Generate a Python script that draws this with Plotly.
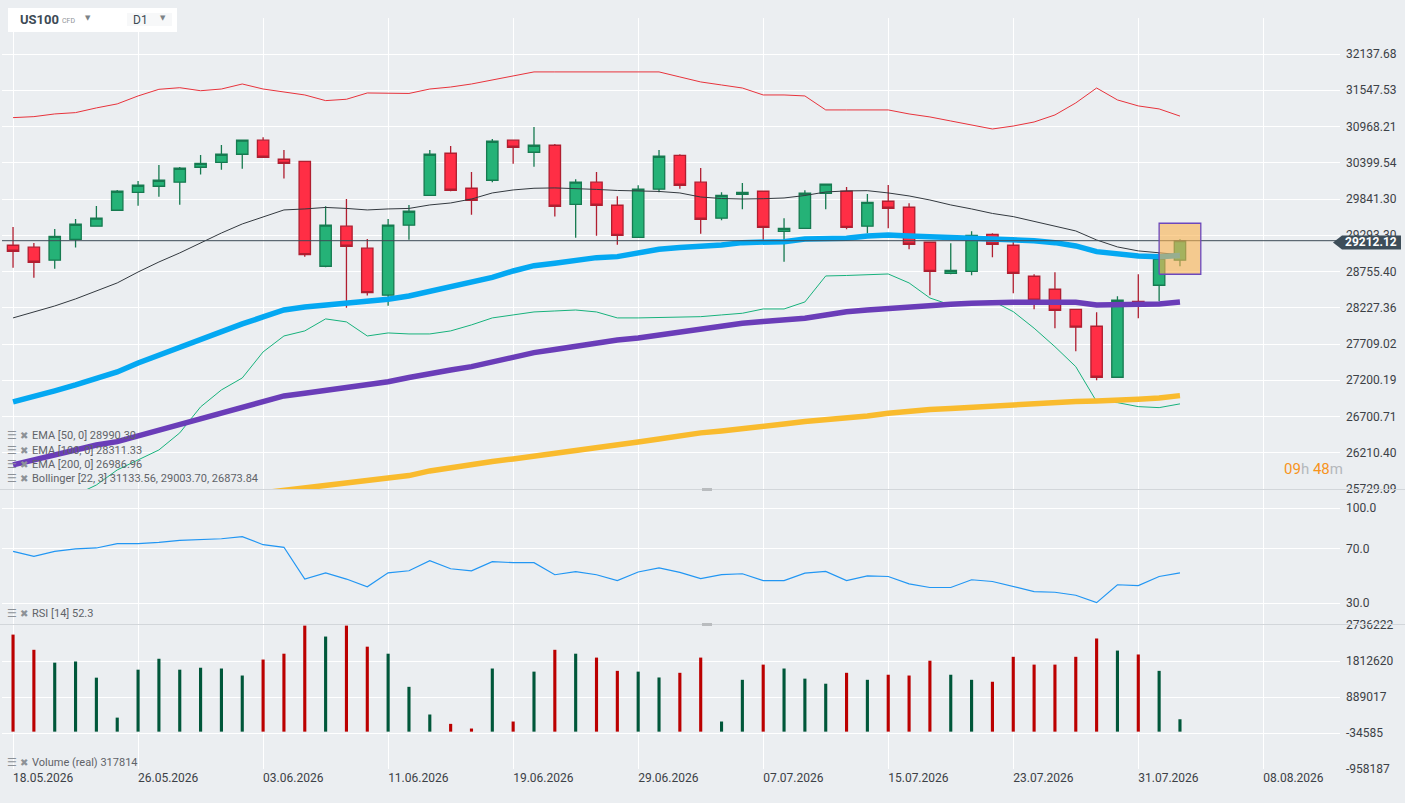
import plotly.graph_objects as go

# ---- values (daily US100 bars, index 0 = 18.05.2026) ----
tick_dates = ["18.05.2026", "26.05.2026", "03.06.2026", "11.06.2026", "19.06.2026",
              "29.06.2026", "07.07.2026", "15.07.2026", "23.07.2026", "31.07.2026", "08.08.2026"]

opens = [29144, 29115, 28922, 29233, 29429, 29670, 29944, 30037, 30099, 30330,
         30407, 30532, 30752, 30454, 30422, 28833, 29429, 29100, 28409, 29444,
         29898, 30548, 30006, 30129, 30752, 30563, 30673, 29761, 30099, 29746,
         29263, 29991, 30516, 30099, 29550, 29914, 29960, 29353, 29398, 29929,
         29960, 29429, 29807, 29716, 29189, 28729, 28758, 29308, 29144, 28686,
         28496, 28205, 27962, 27242, 28321, 28554, 28922]
highs = [29418, 29178, 29388, 29539, 29736, 29980, 30118, 30365, 30334, 30521,
         30678, 30760, 30799, 30600, 30430, 29731, 29841, 29238, 29539, 29751,
         30600, 30662, 30257, 30772, 30758, 30960, 30694, 30145, 30257, 29883,
         30052, 30600, 30532, 30319, 29944, 30088, 29965, 29550, 29975, 30075,
         30026, 29918, 30057, 29776, 29195, 29174, 29353, 29323, 29263, 28715,
         28744, 28210, 28162, 28394, 28715, 29040, 29233]
lows = [28812, 28665, 28797, 29109, 29420, 29665, 29740, 29877, 29755, 30216,
        30293, 30308, 30480, 30154, 28975, 28818, 28228, 28403, 28257, 29227,
        29890, 29960, 29604, 30099, 30385, 30339, 29574, 29257, 29287, 29153,
        29255, 29944, 30000, 29317, 29519, 29686, 29212, 28901, 29390, 29686,
        29383, 29323, 29398, 29085, 28409, 28715, 28700, 28966, 28438, 28205,
        27934, 27607, 27200, 27235, 28077, 28321, 28833]
closes = [29055, 28892, 29278, 29459, 29550, 29960, 30052, 30129, 30314, 30391,
          30532, 30752, 30485, 30391, 29005, 29444, 29129, 28447, 29444, 29655,
          30532, 29975, 29822, 30736, 30642, 30673, 29731, 30099, 29746, 29293,
          29991, 30501, 30052, 29534, 29898, 29944, 29413, 29398, 29929, 30068,
          29413, 29791, 29701, 29159, 28758, 28773, 29293, 29159, 28729, 28336,
          28191, 27948, 27242, 28336, 28292, 28951, 29212.12]

ema50 = [26900, 26969, 27052, 27135, 27232, 27316, 27442, 27555, 27667, 27766,
         27881, 27995, 28095, 28195, 28238, 28267, 28304, 28315, 28350, 28398,
         28461, 28522, 28584, 28668, 28763, 28841, 28877, 28926, 28960, 28975,
         29034, 29085, 29109, 29123, 29149, 29183, 29198, 29198, 29238, 29238,
         29248, 29282, 29297, 29282, 29272, 29263, 29257, 29248, 29233, 29212,
         29183, 29134, 29049, 29011, 28985, 28975, 28990.30]
ema100 = [26048, 26114, 26181, 26261, 26315, 26360, 26437, 26518, 26593, 26667,
          26749, 26822, 26901, 26983, 27020, 27056, 27093, 27135, 27180, 27239,
          27298, 27344, 27390, 27461, 27527, 27587, 27632, 27681, 27723, 27766,
          27795, 27838, 27881, 27909, 27959, 28005, 28031, 28052, 28077, 28124,
          28171, 28195, 28220, 28243, 28260, 28278, 28292, 28307, 28307, 28307,
          28307, 28307, 28267, 28267, 28267, 28282, 28311.33]
ema200 = [25294, 25326, 25359, 25391, 25424, 25456, 25489, 25521, 25554, 25586,
          25619, 25651, 25684, 25716, 25742, 25773, 25809, 25839, 25875, 25906,
          25968, 26015, 26054, 26094, 26127, 26167, 26207, 26254, 26288, 26322,
          26356, 26396, 26441, 26478, 26505, 26532, 26563, 26599, 26633, 26653,
          26676, 26708, 26745, 26777, 26797, 26811, 26827, 26859, 26873, 26883,
          26894, 26905, 26912, 26918, 26938, 26956, 26986.96]

boll_upper = [31109, 31125, 31168, 31189, 31264, 31328, 31456, 31563, 31589, 31540,
              31568, 31649, 31568, 31524, 31472, 31381, 31403, 31504, 31496, 31496,
              31568, 31600, 31649, 31714, 31780, 31845, 31845, 31845, 31845, 31845,
              31837, 31845, 31763, 31682, 31633, 31584, 31472, 31472, 31456, 31232,
              31232, 31232, 31232, 31168, 31120, 31056, 30992, 30929, 30976, 31040,
              31152, 31344, 31584, 31392, 31296, 31248, 31133.56]
boll_mid = [28081, 28167, 28253, 28355, 28471, 28588, 28748, 28896, 29030, 29178,
            29327, 29463, 29569, 29675, 29690, 29713, 29698, 29675, 29690, 29698,
            29751, 29781, 29841, 29934, 29980, 30006, 30011, 30003, 29988, 29972,
            29965, 29957, 29934, 29872, 29849, 29841, 29846, 29857, 29895, 29949,
            29965, 29969, 29934, 29888, 29826, 29751, 29690, 29622, 29574, 29501,
            29426, 29358, 29223, 29119, 29060, 29030, 29003.70]
boll_lower = [25365, 25456, 25547, 25651, 25782, 25981, 26114, 26248, 26478, 26832,
              27066, 27232, 27597, 27823, 27895, 28067, 28024, 27823, 27866, 27852,
              27852, 27895, 27981, 28081, 28124, 28167, 28181, 28195, 28167, 28081,
              28081, 28088, 28095, 28099, 28124, 28148, 28210, 28210, 28311, 28690,
              28697, 28704, 28719, 28588, 28369, 28267, 28292, 28326, 28171, 27934,
              27671, 27390, 26905, 26891, 26836, 26822, 26873.84]

rsi = [68.2, 64.5, 68.2, 70.0, 70.7, 73.9, 73.9, 74.8, 76.3, 76.8,
       77.5, 79.0, 73.1, 71.2, 47.8, 52.4, 47.8, 42.1, 52.4, 53.9,
       61.3, 55.4, 53.9, 60.6, 59.9, 59.9, 51.0, 53.2, 51.0, 46.7,
       53.0, 56.1, 52.7, 48.2, 51.0, 51.7, 46.7, 46.7, 52.2, 53.4,
       46.7, 50.2, 49.7, 44.3, 41.6, 41.6, 47.3, 46.0, 42.3, 38.6,
       38.1, 35.9, 30.4, 43.6, 43.0, 49.7, 52.3]

volume = [2490000, 2100000, 1770000, 1800000, 1385000, 360000, 1590000, 1870000, 1590000, 1640000,
          1620000, 1440000, 1850000, 2000000, 2720000, 2440000, 2720000, 2180000, 2000000, 1150000,
          440000, 200000, 80000, 1620000, 260000, 1540000, 2100000, 2000000, 1900000, 1560000,
          1540000, 1390000, 1510000, 1900000, 260000, 1330000, 1720000, 1620000, 1360000, 1230000,
          1510000, 1330000, 1460000, 1440000, 1820000, 1460000, 1330000, 1280000, 1920000, 1720000,
          1720000, 1920000, 2390000, 2080000, 1980000, 1560000, 317814]

price_ticks = [32137.68, 31547.53, 30968.21, 30399.54, 29841.30, 29293.30, 28755.40,
               28227.36, 27709.02, 27200.19, 26700.71, 26210.40, 25729.09]
rsi_ticks = [100.0, 70.0, 30.0]
volume_ticks = [2736222, 1812620, 889017, -34585, -958187]

focus_top, focus_bottom = 29474, 28715   # highlighted box round the live candle

# ---- page geometry (pixels) ----
W, H = 1405, 803
L, R, T, B = 2, 65, 18, 34
PW, PH = W - L - R, H - T - B


def px(x):
    return (x - L) / PW


def py(y):
    return (H - B - y) / PH


idx = list(range(len(closes)))
last = idx[-1]
last_close = closes[-1]

BG = "#ebeef1"
FONT = "Roboto"
vol_colors = ["#00573a" if c >= o else "#bb0000" for o, c in zip(opens, closes)]

fig = go.Figure()

fig.add_trace(go.Candlestick(
    x=idx, open=opens, high=highs, low=lows, close=closes,
    increasing=dict(line=dict(color="#167a50", width=1.3), fillcolor="#25b277"),
    decreasing=dict(line=dict(color="#b01e30", width=1.3), fillcolor="#ff2e45"),
    whiskerwidth=0, hoverinfo="skip", xaxis="x", yaxis="y"))

for vals, col, w in [(boll_upper, "#e8333c", 1), (boll_mid, "#33393f", 1),
                     (boll_lower, "#17b27c", 1)]:
    fig.add_trace(go.Scatter(x=idx, y=vals, mode="lines", line=dict(color=col, width=w),
                             hoverinfo="skip", xaxis="x", yaxis="y"))

for vals, col in [(ema200, "#f9bb2e"), (ema100, "#6a3db8"), (ema50, "#04a8f2")]:
    fig.add_trace(go.Scatter(x=idx, y=vals, mode="lines", line=dict(color=col, width=5.5),
                             hoverinfo="skip", xaxis="x", yaxis="y"))

# current price line
fig.add_trace(go.Scatter(x=[-5, last + 20], y=[last_close, last_close], mode="lines",
                         line=dict(color="#3d4a55", width=1), hoverinfo="skip",
                         xaxis="x", yaxis="y"))

# highlight box over the live candle
fig.add_trace(go.Scatter(
    x=[last - 1, last + 1, last + 1, last - 1, last - 1],
    y=[focus_bottom, focus_bottom, focus_top, focus_top, focus_bottom],
    mode="lines", fill="toself", fillcolor="rgba(250,178,78,0.6)",
    line=dict(color="#6c47bd", width=1.3), hoverinfo="skip", xaxis="x", yaxis="y"))

fig.add_trace(go.Scatter(x=idx, y=rsi, mode="lines", line=dict(color="#2196f3", width=1.2),
                         hoverinfo="skip", xaxis="x2", yaxis="y2"))

fig.add_trace(go.Bar(x=idx, y=volume, marker=dict(color=vol_colors, line=dict(width=0)),
                     width=0.15, hoverinfo="skip", xaxis="x3", yaxis="y3"))

tickvals_x = list(range(0, 6 * len(tick_dates), 6))
xrange = [-0.53, 63.68]
xcommon = dict(showgrid=True, gridcolor="white", gridwidth=1, zeroline=False,
               tickvals=tickvals_x, showline=False, ticks="")
ycommon = dict(side="right", showgrid=True, gridcolor="white", gridwidth=1, zeroline=False,
               ticks="", ticklabelstandoff=5, showline=False,
               tickfont=dict(family=FONT, size=12, color="#3c4146"))

fig.update_layout(
    width=W, height=H,
    margin=dict(l=L, r=R, t=T, b=B),
    paper_bgcolor=BG, plot_bgcolor=BG,
    showlegend=False, boxgap=0.22,
    font=dict(family=FONT, size=12, color="#3c4146"),
    xaxis=dict(xcommon, range=xrange, anchor="y", showticklabels=False,
               rangeslider=dict(visible=False)),
    xaxis2=dict(xcommon, matches="x", anchor="y2", showticklabels=False),
    xaxis3=dict(xcommon, matches="x", anchor="y3", ticktext=tick_dates,
                ticklabelposition="outside right",
                tickfont=dict(family=FONT, size=12, color="#3c4146")),
    yaxis=dict(ycommon, type="log", domain=[py(489), 1.0],
               range=[4.410423, 4.515013],
               tickvals=price_ticks, ticktext=[f"{v:.2f}" for v in price_ticks]),
    yaxis2=dict(ycommon, domain=[py(624), py(490)], range=[14.7, 113.4],
                tickvals=rsi_ticks, ticktext=[f"{v:.1f}" for v in rsi_ticks]),
    yaxis3=dict(ycommon, domain=[0, py(625)], range=[volume_ticks[-1], volume_ticks[0]],
                tickvals=volume_ticks, ticktext=[str(v) for v in volume_ticks]),
)

shapes = []
# panel separators and drag handles
for yy in (489.5, 624.5):
    shapes.append(dict(type="line", xref="paper", yref="paper", x0=px(0), x1=px(W),
                       y0=py(yy), y1=py(yy), line=dict(color="#d2d6da", width=1)))
    shapes.append(dict(type="rect", xref="paper", yref="paper", x0=px(702), x1=px(712),
                       y0=py(yy + 1.5), y1=py(yy - 1.5), fillcolor="#b9bcbf", line=dict(width=0)))
# header box
shapes.append(dict(type="rect", xref="paper", yref="paper", x0=px(8), x1=px(177),
                   y0=py(32), y1=py(8), fillcolor="white", line=dict(width=0), layer="above"))
shapes.append(dict(type="rect", xref="paper", yref="paper", x0=px(127), x1=px(172),
                   y0=py(26), y1=py(13), fillcolor="#f7f8f9", line=dict(width=0), layer="above"))
# last price tag
tag = (f"M {px(1333)} {py(242.5)} L {px(1342)} {py(235.5)} L {px(1401)} {py(235.5)} "
       f"L {px(1401)} {py(249.5)} L {px(1342)} {py(249.5)} Z")
shapes.append(dict(type="path", xref="paper", yref="paper", path=tag,
                   fillcolor="#3d4d59", line=dict(width=0), layer="above"))
fig.update_layout(shapes=shapes)


def note(x, y, text, size=11, color="#5f6368", **kw):
    fig.add_annotation(xref="paper", yref="paper", x=px(x), y=py(y), text=text,
                       showarrow=False, xanchor=kw.pop("xanchor", "left"), yanchor="middle",
                       font=dict(family=kw.pop("family", FONT), size=size, color=color), **kw)


legend_rows = [
    (436, f"EMA [50, 0] {ema50[-1]:.2f}"),
    (450, f"EMA [100, 0] {ema100[-1]:.2f}"),
    (464, f"EMA [200, 0] {ema200[-1]:.2f}"),
    (478.5, f"Bollinger [22, 3] {boll_upper[-1]:.2f}, {boll_mid[-1]:.2f}, {boll_lower[-1]:.2f}"),
    (613.5, f"RSI [14] {rsi[-1]:.1f}"),
    (762.5, f"Volume (real) {volume[-1]}"),
]
for yy, txt in legend_rows:
    note(5, yy, "☰", size=11, color="#8d9297", family="DejaVu Sans")
    note(18, yy, "✖", size=10, color="#8d9297", family="DejaVu Sans")
    note(30, yy, txt, size=11, color="#5f6368")

note(1343, 242.5, f"<b>{last_close:.2f}</b>", size=12, color="white")
note(1282, 469, "<span style='color:#f7941d'>09</span><span style='color:#b4b8bc'>h</span> "
     "<span style='color:#f7941d'>48</span><span style='color:#b4b8bc'>m</span>", size=15)

note(18, 19.5, "<b>US100</b>", size=13, color="#3d4a55")
note(60, 21, "CFD", size=7, color="#8f9498")
note(83, 18, "▼", size=7, color="#7d8286", family="DejaVu Sans")
note(131, 20, "D1", size=12, color="#3d4a55")
note(158, 18, "▼", size=7, color="#7d8286", family="DejaVu Sans")

fig.write_html("out.html", config=dict(displayModeBar=False),
               post_script="document.body.style.margin='0px';document.body.style.overflow='hidden';")
